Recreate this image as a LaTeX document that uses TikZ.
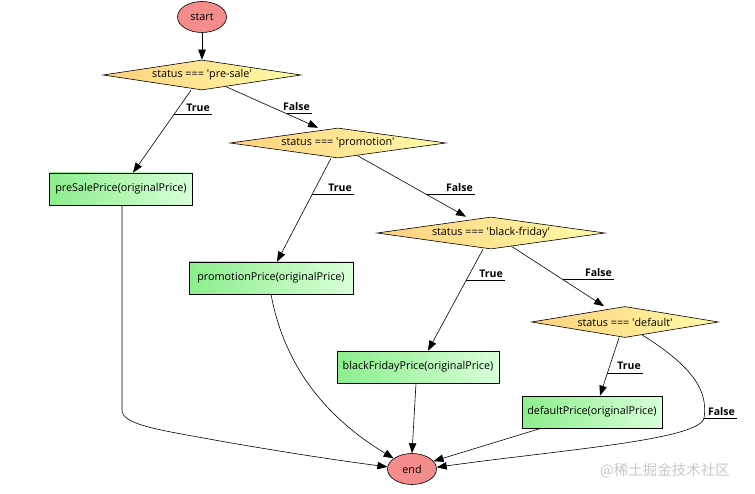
\documentclass[tikz,border=0pt]{standalone}
\usepackage{fontspec}
\setmainfont{Open Sans}
\newfontfamily\cjkfont{Noto Sans CJK SC}
\usetikzlibrary{shapes.geometric,arrows.meta}
\definecolor{dL}{HTML}{FFD07E}
\definecolor{dR}{HTML}{FFFBA8}
\definecolor{bL}{HTML}{8CEE8C}
\definecolor{bR}{HTML}{D8FFD8}
\definecolor{eF}{HTML}{F58C8C}
\definecolor{wm}{HTML}{C8C8C8}
\newcommand{\sq}{\textquotesingle}
\begin{document}
\begin{tikzpicture}[x=1pt,y=-1pt,
  txt/.style={font=\fontsize{10.8}{12}\selectfont},
  term/.style={txt, ellipse, draw=black, line width=0.6pt, fill=eF, minimum width=49pt, minimum height=31pt, inner sep=0pt},
  decision/.style={txt, diamond, draw=black, line width=0.6pt, left color=dL, right color=dR, inner sep=0pt},
  action/.style={txt, rectangle, draw=black, line width=0.6pt, left color=bL, right color=bR, minimum height=32pt, inner sep=0pt},
  arr/.style={draw=black, line width=0.6pt, -{Triangle[length=10pt,width=7.5pt]}},
  ul/.style={draw=black, line width=0.5pt},
  lbl/.style={font=\fontsize{10.5}{12}\selectfont\bfseries, anchor=base east, inner sep=0pt, xshift=-2pt, yshift=3pt}
]
\useasboundingbox (0,0) rectangle (755,494);

% nodes
\node[term] (start) at (202,17) {start};
\node[decision, minimum width=198pt, minimum height=30pt, aspect=6.6] (d1) at (202,75) {status === \sq pre-sale\sq};
\node[action, minimum width=143pt] (ps) at (121,189) {preSalePrice(originalPrice)};
\node[decision, minimum width=216pt, minimum height=30pt, aspect=7.2] (d2) at (338,143) {status === \sq promotion\sq};
\node[action, minimum width=164pt] (pp) at (271,278) {promotionPrice(originalPrice)};
\node[decision, minimum width=228pt, minimum height=32pt, aspect=7.1] (d3) at (491,233) {status === \sq black-friday\sq};
\node[action, minimum width=162pt] (bf) at (418,367) {blackFridayPrice(originalPrice)};
\node[decision, minimum width=187pt, minimum height=31pt, aspect=6] (d4) at (625,322) {status === \sq default\sq};
\node[action, minimum width=140pt] (dp) at (592,412) {defaultPrice(originalPrice)};
\node[term] (end) at (412,469) {end};

% watermark
\node[font=\cjkfont\fontsize{14.5}{16}\selectfont, text=wm, inner sep=0pt] (wmk) at (665,471) {@稀土掘金技术社区};

% connectors
\draw[arr] (start.south) -- (d1.north);

\draw[arr] ([xshift=-11pt]d1.south) -- coordinate[pos=0.29] (t1) ([xshift=12pt]ps.north);
\draw[ul] (t1) -- (t1 -| 212,0) node[lbl] {True};

\draw[arr] (d1.334) -- coordinate[pos=0.66] (t2) ([xshift=-20pt]d2.north);
\draw[ul] (t2) -- (t2 -| 312,0) node[lbl] {False};

\draw[arr] ([xshift=-7pt]d2.south) -- coordinate[pos=0.346] (t3) ([xshift=6pt]pp.north);
\draw[ul] (t3) -- (t3 -| 354,0) node[lbl] {True};

\draw[arr] (d2.327) -- coordinate[pos=0.63] (t4) ([xshift=-25pt]d3.north);
\draw[ul] (t4) -- (t4 -| 475,0) node[lbl] {False};

\draw[arr] ([xshift=-8pt]d3.south) -- coordinate[pos=0.304] (t5) ([xshift=10pt]bf.north);
\draw[ul] (t5) -- (t5 -| 505,0) node[lbl] {True};

\draw[arr] (d3.327) -- coordinate[pos=0.557] (t6) ([xshift=-21pt]d4.north);
\draw[ul] (t6) -- (t6 -| 614,0) node[lbl] {False};

\draw[arr] ([xshift=-6pt]d4.south) -- coordinate[pos=0.607] (t7) ([xshift=8pt]dp.north);
\draw[ul] (t7) -- (t7 -| 643,0) node[lbl] {True};

\draw[arr] (d4.323) .. controls (695,368) and (708,392) .. (704,418) coordinate (t8)
  .. controls (700,440) and (560,450) .. (end.4);
\draw[ul] (t8) -- (t8 -| 737,0) node[lbl] {False};

\draw[arr] ([xshift=1pt]ps.south) -- (122,410) .. controls (122,425) and (160,430) .. (220,441)
  .. controls (300,455) and (350,462) .. (end.175);
\draw[arr] (pp.south) .. controls (285,370) and (330,420) .. (end.150);
\draw[arr] ([xshift=-2pt]bf.south) -- (end.north);
\draw[arr] ([xshift=-51pt]dp.south) -- (end.20);
\end{tikzpicture}
\end{document}
